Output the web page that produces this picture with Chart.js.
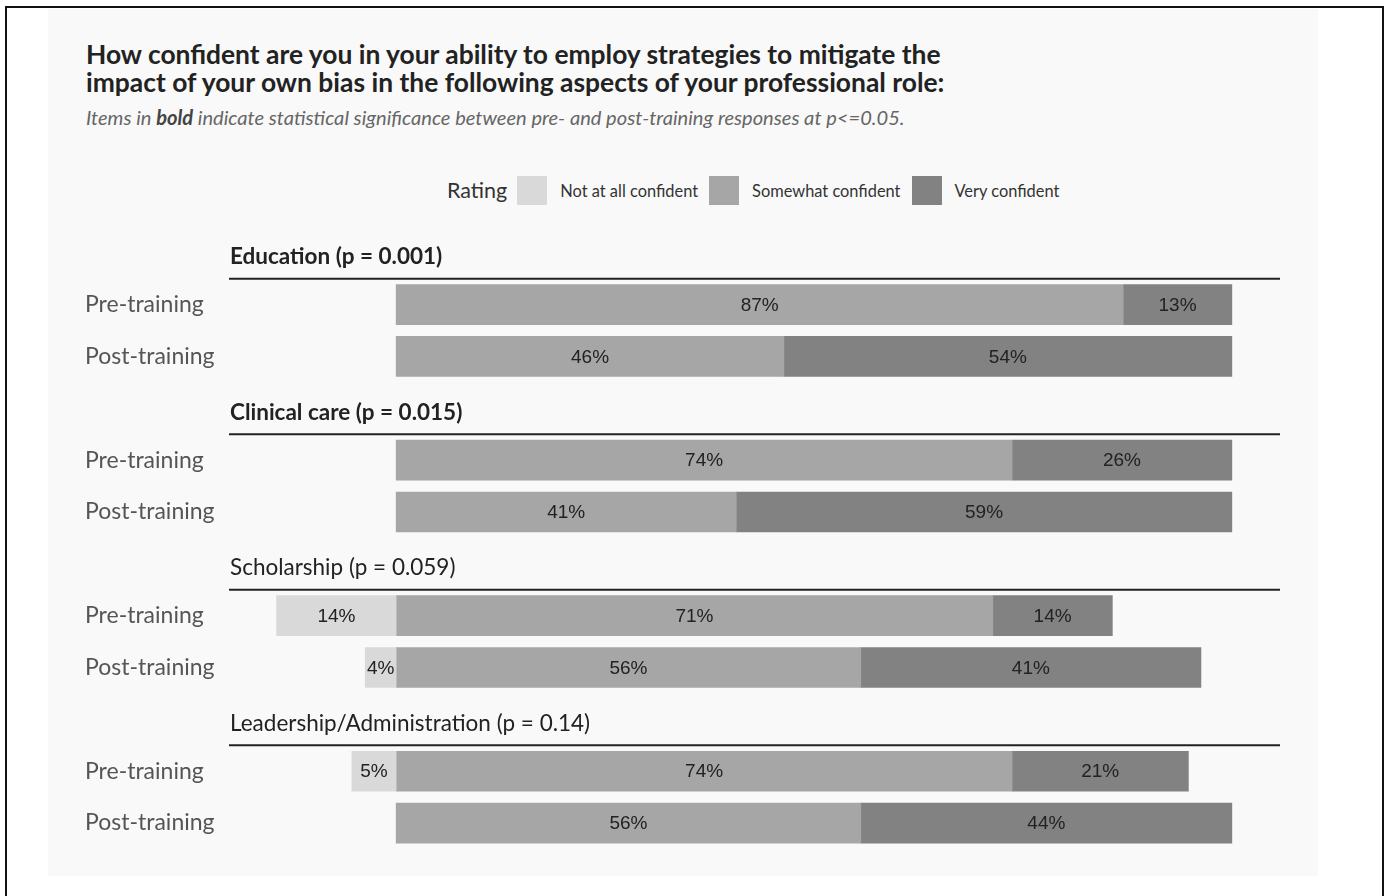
<!DOCTYPE html>
<html>
<head>
<meta charset="utf-8">
<script src="https://cdn.jsdelivr.net/npm/chart.js@4"></script>
<style>
  html, body { margin: 0; padding: 0; background: #fff; }
  body { width: 1389px; height: 896px; position: relative; overflow: hidden; font-family: Lato, sans-serif; }
  #frame { position: absolute; left: 5px; top: 6px; width: 1375px; height: 900px;
           border: 2px solid #111; border-bottom: none; }
  #panel { position: absolute; left: 48px; top: 9px; width: 1270px; height: 867px; background: #f9f9f9; }
  #title { position: absolute; left: 86px; top: 40px; font-size: 26.4px; font-weight: bold;
           line-height: 28px; color: #222; white-space: nowrap; }
  #subtitle { position: absolute; left: 86px; top: 106px; font-size: 20.1px; font-style: italic;
              line-height: 22px; color: #666; white-space: nowrap; }
  #subtitle b { color: #444; }
  #legend { position: absolute; left: 447px; top: 175px; height: 30px; display: flex; align-items: center;
            color: #333; font-size: 16.4px; white-space: nowrap; }
  #legend .lbl { font-size: 21.5px; margin-right: 10px; }
  #legend .box { width: 30px; height: 29px; margin-right: 13px; flex: none; }
  #legend .txt { margin-right: 11px; }
  #wrap { position: absolute; left: 48px; top: 210px; width: 1270px; height: 660px; }
</style>
</head>
<body>
<div id="frame"></div>
<div id="panel"></div>
<div id="title">How confident are you in your ability to employ strategies to mitigate the<br>impact of your own bias in the following aspects of your professional role:</div>
<div id="subtitle">Items in <b>bold</b> indicate statistical significance between pre- and post-training responses at p&lt;=0.05.</div>
<div id="legend"></div>
<div id="wrap"><canvas id="chart" width="1270" height="660"></canvas></div>
<script>
// Data
const groups = ['Education', 'Clinical care', 'Scholarship', 'Leadership/Administration'];
const pValues = ['0.001', '0.015', '0.059', '0.14'];
const phases = ['Pre-training', 'Post-training'];
const ratings = ['Not at all confident', 'Somewhat confident', 'Very confident'];

// one entry per bar: Edu pre, Edu post, Clin pre, Clin post, Schol pre, Schol post, Lead pre, Lead post
const notAtAll = [0, 0, 0, 0, 14.3, 3.7, 5.3, 0];
const somewhat = [87, 46.4, 73.7, 40.7, 71.4, 55.6, 73.7, 55.6];
const veryConf = [13, 53.6, 26.3, 59.3, 14.3, 40.7, 21.1, 44.4];

const colors = ['#d9d9d9', '#a6a6a6', '#828282'];

// Build rows: a heading row followed by pre/post rows for each group
const labels = [];
const rowType = [];
const rowsNot = [], rowsSome = [], rowsVery = [];
groups.forEach((g, gi) => {
    labels.push(g + ' (p = ' + pValues[gi] + ')');
    rowType.push('head');
    rowsNot.push(null); rowsSome.push(null); rowsVery.push(null);
    phases.forEach((ph, pi) => {
        const k = gi * 2 + pi;
        labels.push(ph);
        rowType.push('bar');
        rowsNot.push(notAtAll[k] ? -notAtAll[k] : null);
        rowsSome.push(somewhat[k] || null);
        rowsVery.push(veryConf[k] || null);
    });
});

// Legend (html)
const legendEl = document.getElementById('legend');
legendEl.innerHTML = '<span class="lbl">Rating</span>' + ratings.map((r, i) =>
    '<span class="box" style="background:' + colors[i] + '"></span><span class="txt">' + r + '</span>').join('');

// Group headings and the rule under them
const headingPlugin = {
    id: 'headings',
    afterDraw(chart) {
        const ctx = chart.ctx;
        const y = chart.scales.y;
        const area = chart.chartArea;
        ctx.save();
        labels.forEach((lab, i) => {
            if (rowType[i] !== 'head') return;
            const gi = groups.indexOf(lab.split(' (p')[0]);
            const sig = parseFloat(pValues[gi]) <= 0.05;
            const cy = y.getPixelForValue(i);
            const lineY = (cy + y.getPixelForValue(i + 1)) / 2;
            ctx.fillStyle = '#222';
            ctx.font = (sig ? 'bold ' : '') + '22.5px Lato';
            ctx.textBaseline = 'middle';
            ctx.textAlign = 'left';
            ctx.fillText(lab, area.left + 1, cy + 4);
            ctx.strokeStyle = '#222';
            ctx.lineWidth = 2;
            ctx.beginPath();
            ctx.moveTo(area.left, lineY);
            ctx.lineTo(area.right - 2, lineY);
            ctx.stroke();
        });
        ctx.restore();
    }
};

// Percent labels inside each segment
const valueLabels = {
    id: 'valueLabels',
    afterDatasetsDraw(chart) {
        const ctx = chart.ctx;
        ctx.save();
        ctx.font = '19px "Liberation Sans", Arial, sans-serif';
        ctx.fillStyle = '#222';
        ctx.textAlign = 'center';
        ctx.textBaseline = 'middle';
        chart.data.datasets.forEach((ds, di) => {
            const meta = chart.getDatasetMeta(di);
            meta.data.forEach((bar, i) => {
                const v = ds.data[i];
                if (v === null || v === undefined) return;
                const cx = (bar.x + bar.base) / 2;
                ctx.fillText(Math.round(Math.abs(v)) + '%', cx, bar.y + 1);
            });
        });
        ctx.restore();
    }
};

new Chart(document.getElementById('chart').getContext('2d'), {
    type: 'bar',
    data: {
        labels: labels,
        datasets: [
            { label: ratings[0], data: rowsNot, backgroundColor: colors[0] },
            { label: ratings[1], data: rowsSome, backgroundColor: colors[1] },
            { label: ratings[2], data: rowsVery, backgroundColor: colors[2] }
        ]
    },
    options: {
        indexAxis: 'y',
        responsive: false,
        animation: false,
        layout: { padding: { left: 37, right: 36, top: 4, bottom: 21 } },
        datasets: { bar: { barThickness: 40, borderWidth: 0 } },
        scales: {
            x: { type: 'linear', stacked: true, min: -20, max: 106, display: false },
            y: {
                stacked: true,
                grid: { display: false },
                border: { display: false },
                afterFit(scale) { scale.width = 144; },
                ticks: {
                    crossAlign: 'far',
                    color: '#555',
                    font: { family: 'Lato', size: 23 },
                    callback(value, index) { return rowType[index] === 'head' ? '' : labels[index]; }
                }
            }
        },
        plugins: {
            legend: { display: false },
            tooltip: { enabled: false }
        }
    },
    plugins: [headingPlugin, valueLabels]
});
</script>
</body>
</html>
